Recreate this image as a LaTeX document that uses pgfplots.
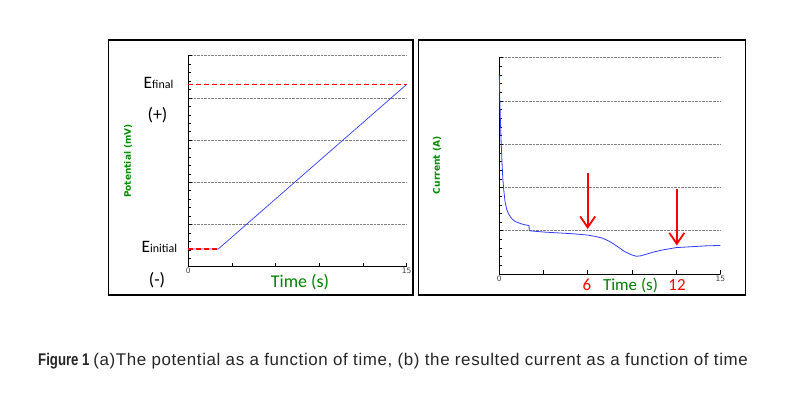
\documentclass[border=0pt]{standalone}
\usepackage{pgfplots}
\pgfplotsset{compat=1.18}
\usetikzlibrary{arrows.meta}
\usepackage{fontspec}
\setmainfont{Liberation Sans}
\newfontfamily\calfont{Carlito}
\newfontfamily\dvs{DejaVu Sans}
\newfontfamily\capfont[LetterSpace=3.6]{Liberation Sans}
\newfontfamily\figfont[FakeStretch=0.78]{Liberation Sans}
\definecolor{tgreen}{RGB}{0,128,0}
\definecolor{lgreen}{RGB}{0,140,0}
\definecolor{cblue}{RGB}{50,60,255}
\begin{document}
\begin{tikzpicture}
\useasboundingbox (0,0) rectangle (800bp,395bp);
\fill[white] (0,0) rectangle (800bp,395bp);
\pgfplotsset{panel/.style={
  scale only axis,
  xmin=0, xmax=15, ymin=0, ymax=5,
  axis x line*=bottom, axis y line*=left,
  axis line style={-, black, line width=0.6bp},
  xtick={0,3,...,15}, xticklabels={0,,,,,15},
  ytick={0,...,5}, yticklabels={},
  minor y tick num=4,
  ymajorgrids,
  grid style={densely dotted, gray, line width=0.6bp},
  major tick length=3.5bp, minor tick length=2.5bp,
  tick align=inside,
  tick style={black, line width=0.5bp},
  xticklabel style={font=\dvs\fontsize{7.5}{8}\selectfont, text=black!75, inner sep=1.5bp},
  clip=false,
}}
% left panel
\begin{axis}[panel, at={(188.3bp,128.3bp)}, anchor=south west, width=218.4bp, height=211bp]
\addplot[cblue, line width=0.7bp] coordinates {(0,0.42) (2.06,0.42) (15,4.32)};
\addplot[red, line width=1.6bp, dash pattern=on 5bp off 3bp] coordinates {(0,0.42) (2.06,0.42)};
\addplot[red, line width=1.6bp, dash pattern=on 5bp off 3bp] coordinates {(0,4.32) (15,4.32)};
\end{axis}
% right panel
\begin{axis}[panel, at={(499.3bp,121bp)}, anchor=south west, width=221bp, height=216.3bp]
\addplot[cblue, line width=0.8bp] coordinates {
(0,4.61) (0.03,4.1) (0.07,3.6) (0.12,3.1) (0.18,2.6) (0.24,2.2) (0.3,1.95)
(0.39,1.67) (0.5,1.5) (0.6,1.41) (0.75,1.32) (0.9,1.26) (1.1,1.21) (1.4,1.17)
(1.7,1.14) (2.02,1.12) (2.03,1.0) (3,0.97) (4,0.95) (5,0.93) (6,0.9) (6.5,0.87)
(7,0.83) (7.5,0.75) (8,0.64) (8.5,0.52) (9,0.44) (9.3,0.41) (9.6,0.42) (10,0.46)
(10.5,0.51) (11,0.55) (11.5,0.58) (12,0.61) (13,0.63) (14,0.65) (15,0.66)};
\addplot[red, line width=1.8bp, -{Straight Barb[length=11bp,width=15bp,line width=1.8bp]}] coordinates {(6,2.33) (6,1.04)};
\addplot[red, line width=1.8bp, -{Straight Barb[length=11bp,width=15bp,line width=1.8bp]}] coordinates {(12.05,1.96) (12.05,0.66)};
\end{axis}
\begin{scope}[x=1bp,y=1bp]
% frames
\draw[line width=1.4bp] (108.5,355) rectangle (413,100);
\draw[line width=1.4bp] (418.5,355) rectangle (745.5,100);
% left annotations
\node[anchor=base west, inner sep=0] at (143.5,307) {\calfont\fontsize{17.5}{17}\selectfont E\fontsize{12}{12}\selectfont final};
\node[inner sep=0] at (157.5,280) {\calfont\fontsize{18}{18}\selectfont (+)};
\node[anchor=base west, inner sep=0] at (141.5,143) {\calfont\fontsize{17.5}{17}\selectfont E\fontsize{12}{12}\selectfont initial};
\node[inner sep=0] at (157,115) {\calfont\fontsize{18}{18}\selectfont (-)};
\node[inner sep=0, text=tgreen] at (300,113) {\calfont\fontsize{18}{18}\selectfont Time (s)};
\node[inner sep=0, text=lgreen, rotate=90] at (128,234) {\dvs\bfseries\fontsize{9}{9}\selectfont Potential (mV)};
% right annotations
\node[inner sep=0, text=lgreen, rotate=90] at (437,230) {\dvs\bfseries\fontsize{9.2}{9}\selectfont Current (A)};
\node[inner sep=0, text=red] at (587,110) {\calfont\fontsize{17}{17}\selectfont 6};
\node[inner sep=0, text=tgreen] at (630.5,110) {\calfont\fontsize{17}{17}\selectfont Time (s)};
\node[inner sep=0, text=red] at (677,110) {\calfont\fontsize{17}{17}\selectfont 12};
% caption
\node[anchor=base west, inner sep=0, text=black!85] at (38,30) {\fontsize{17}{17}\selectfont{\figfont\bfseries Figure 1}\hspace{-1bp} {\capfont (a)The potential as a function of time, (b) the resulted current as a function of time}};
\end{scope}
\end{tikzpicture}
\end{document}
